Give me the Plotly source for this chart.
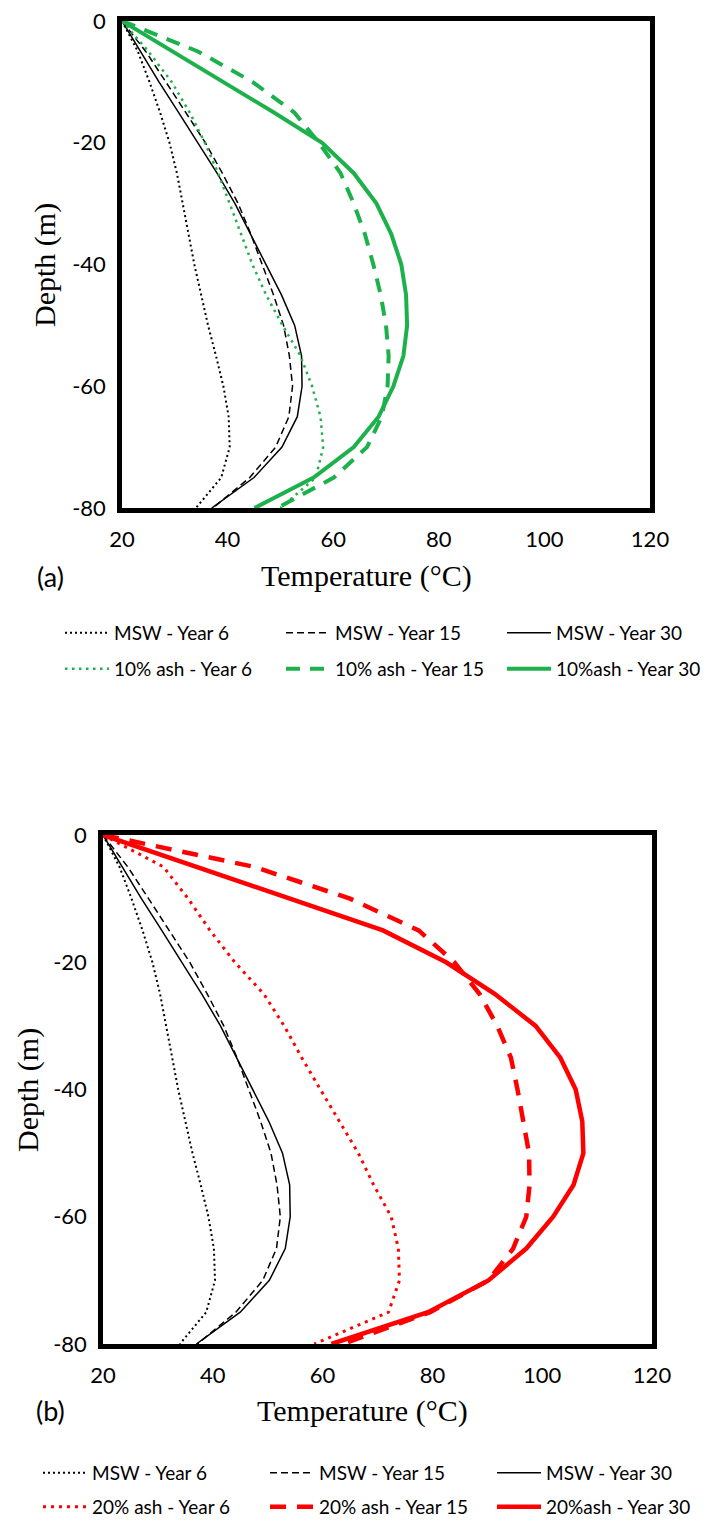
import plotly.graph_objects as go

# ---------------- data ----------------
depth = [0, -5, -10, -15, -20, -25, -30, -35, -40, -45, -50, -55, -60, -65, -70, -75, -80]

msw_year6 = [20, 23.0, 25.2, 27.2, 29.0, 30.4, 31.5, 32.6, 33.7, 35.0, 36.3, 37.8, 39.2, 40.2, 40.4, 38.8, 34.0]
msw_year15 = [20, 24.5, 28.3, 32.0, 35.8, 39.0, 42.0, 44.4, 46.5, 48.7, 50.6, 51.7, 52.3, 51.6, 49.1, 44.2, 37.2]
msw_year30 = [20, 23.5, 27.0, 30.7, 34.4, 38.0, 41.4, 44.3, 47.3, 50.2, 52.7, 54.0, 54.1, 53.2, 50.3, 45.0, 37.0]

ash10_year6 = [20, 25.0, 29.4, 32.8, 35.7, 38.2, 40.4, 42.5, 44.7, 47.3, 50.4, 53.8, 56.0, 57.6, 58.1, 56.7, 50.0]
ash10_year15 = [20, 34.4, 44.7, 52.6, 57.3, 61.4, 63.9, 66.0, 67.6, 69.0, 70.0, 70.5, 70.3, 69.2, 66.4, 60.1, 49.4]
ash10_year30 = [20, 29.6, 39.1, 48.7, 57.9, 63.9, 68.2, 71.0, 72.9, 73.8, 74.0, 73.3, 71.4, 68.6, 63.9, 56.3, 45.1]

ash20_year6 = [20, 31.0, 35.5, 39.5, 44.0, 49.3, 53.0, 56.2, 59.6, 63.0, 66.5, 69.3, 72.5, 73.8, 74.0, 72.0, 58.5]
ash20_year15 = [20, 47.5, 65.0, 77.5, 84.0, 88.6, 91.8, 94.3, 95.5, 96.6, 97.6, 97.7, 97.1, 94.7, 90.2, 79.6, 63.7]
ash20_year30 = [20, 37.0, 54.2, 71.0, 82.5, 91.4, 98.8, 103.3, 106.1, 107.3, 107.5, 105.7, 102.0, 97.1, 90.2, 79.2, 61.6]

x_ticks = [20, 40, 60, 80, 100, 120]
y_ticks = [0, -20, -40, -60, -80]
y_tick_text = ["0", "-20", "-40", "-60", "-80"]

labels_msw = ["MSW - Year 6", "MSW - Year 15", "MSW - Year 30"]
labels_10 = ["10% ash - Year 6", "10% ash - Year 15", "10%ash - Year 30"]
labels_20 = ["20% ash - Year 6", "20% ash - Year 15", "20%ash - Year 30"]

x_title = "Temperature (°C)"
y_title = "Depth (m)"

# ---------------- geometry (page px; the page body has an 8px margin) ----------------
PAGE_W, PAGE_H = 709, 1525
OFF = 8
W, H = PAGE_W - 2 * OFF, PAGE_H - OFF


def px(xp):
    return (xp - OFF) / W


def py(yp):
    return 1 - (yp - OFF) / H


GREEN = "#1DB14B"
RED = "#FF0000"
TICKFONT = dict(family="Lato", size=22, color="black")
TITLEFONT = dict(family="Liberation Serif", size=30, color="black")
LEGFONT = dict(family="Lato", size=19, color="black")

black_styles = [dict(color="black", width=2, dash="2px,3px"),
                dict(color="black", width=1.5, dash="7px,4px"),
                dict(color="black", width=1.5)]
green_styles = [dict(color=GREEN, width=2.5, dash="2.5px,4.5px"),
                dict(color=GREEN, width=4, dash="14px,10px"),
                dict(color=GREEN, width=4)]
red_styles = [dict(color=RED, width=3, dash="3px,5px"),
              dict(color=RED, width=4.5, dash="16px,11px"),
              dict(color=RED, width=4.5)]

fig = go.Figure()

msw_series = [msw_year6, msw_year15, msw_year30]
a_series = [ash10_year6, ash10_year15, ash10_year30]
b_series = [ash20_year6, ash20_year15, ash20_year30]

# panel (a)
for vals, name, st in zip(msw_series, labels_msw, black_styles):
    fig.add_trace(go.Scatter(x=vals, y=depth, mode="lines", name=name, line=st,
                             xaxis="x", yaxis="y", legend="legend"))
for vals, name, st in zip(a_series, labels_10, green_styles):
    fig.add_trace(go.Scatter(x=vals, y=depth, mode="lines", name=name, line=st,
                             xaxis="x", yaxis="y", legend="legend2"))
# panel (b)
for vals, name, st in zip(msw_series, labels_msw, black_styles):
    fig.add_trace(go.Scatter(x=vals, y=depth, mode="lines", name=name, line=st,
                             xaxis="x2", yaxis="y2", legend="legend3"))
for vals, name, st in zip(b_series, labels_20, red_styles):
    fig.add_trace(go.Scatter(x=vals, y=depth, mode="lines", name=name, line=st,
                             xaxis="x2", yaxis="y2", legend="legend4"))

axis_common = dict(showline=True, linewidth=4.5, linecolor="black", mirror=True,
                   showgrid=False, zeroline=False, ticks="", tickfont=TICKFONT,
                   fixedrange=True, automargin=False, ticklabeloverflow="allow")

fig.update_layout(
    width=W, height=H,
    margin=dict(l=0, r=0, t=0, b=0, autoexpand=False),
    paper_bgcolor="white", plot_bgcolor="white",
    xaxis=dict(domain=[px(122), px(650)], range=[20, 120], tickvals=x_ticks, anchor="y",
               ticklabelstandoff=8, **axis_common),
    yaxis=dict(domain=[py(508), py(21)], range=[-80, 0], tickvals=y_ticks, ticktext=y_tick_text,
               anchor="x", ticklabelstandoff=7, **axis_common),
    xaxis2=dict(domain=[px(103), px(652)], range=[20, 120], tickvals=x_ticks, anchor="y2",
                ticklabelstandoff=8, **axis_common),
    yaxis2=dict(domain=[py(1344), py(835)], range=[-80, 0], tickvals=y_ticks, ticktext=y_tick_text,
                anchor="x2", ticklabelstandoff=7, **axis_common),
    showlegend=True,
)

leg_common = dict(orientation="h", xanchor="left", yanchor="middle", font=LEGFONT,
                  itemwidth=44, entrywidth=162, entrywidthmode="pixels",
                  bgcolor="rgba(0,0,0,0)", borderwidth=0, itemclick=False, itemdoubleclick=False)
fig.update_layout(
    legend=dict(x=px(60), y=py(633), **leg_common),
    legend2=dict(x=px(60), y=py(669), **leg_common),
    legend3=dict(x=px(38), y=py(1473), **dict(leg_common, entrywidth=168)),
    legend4=dict(x=px(38), y=py(1507), **dict(leg_common, entrywidth=168)),
)

ann = dict(xref="paper", yref="paper", showarrow=False, xanchor="center", yanchor="middle")
fig.add_annotation(text="(a)", x=px(50), y=py(576), font=dict(family="Lato", size=27, color="black"), **ann)
fig.add_annotation(text="(b)", x=px(50), y=py(1410), font=dict(family="Lato", size=27, color="black"), **ann)
fig.add_annotation(text=x_title, x=px(366), y=py(576), font=TITLEFONT, **ann)
fig.add_annotation(text=x_title, x=px(362), y=py(1411), font=TITLEFONT, **ann)
fig.add_annotation(text=y_title, x=px(45), y=py(265), textangle=-90, font=TITLEFONT, **ann)
fig.add_annotation(text=y_title, x=px(28), y=py(1090), textangle=-90, font=TITLEFONT, **ann)

fig.write_html("out.html")
